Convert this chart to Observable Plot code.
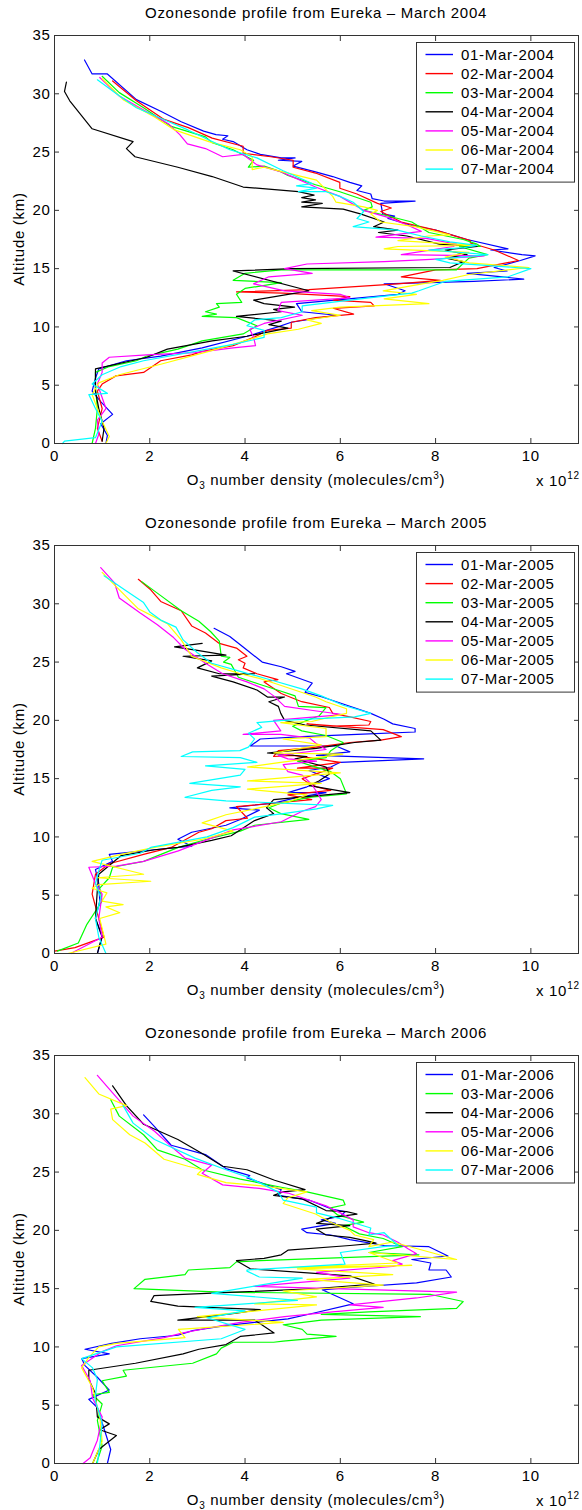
<!DOCTYPE html>
<html><head><meta charset="utf-8">
<script src="https://cdn.jsdelivr.net/npm/d3@7"></script>
<script src="https://cdn.jsdelivr.net/npm/@observablehq/plot@0.6"></script>
<style>
html,body{margin:0;padding:0;background:#fff;}
#chart svg{display:block;}
</style></head><body><div id="chart"></div>
<script>
// ---- Data: [O3 number density (x10^12 molecules/cm3), altitude (km)] ----
const m04_01 = [[0.63,32.9],[0.79,31.7],[1.11,31.7],[1.72,29.5],[2.23,28.5],[2.66,27.6],[3.13,26.8],[3.39,26.5],[3.64,26.4],[3.53,26.1],[3.75,25.9],[4.04,25.2],[4.32,24.8],[4.76,24.5],[5.05,24.5],[4.7,24.3],[5.19,24.2],[5.01,23.8],[5.48,23.3],[5.84,22.9],[6.2,22.4],[6.45,22.1],[6.35,21.7],[6.64,21.4],[6.67,21.0],[6.92,20.8],[7.57,20.8],[6.85,20.6],[6.89,19.7],[7.14,19.5],[7.0,19.3],[7.5,18.7],[8.0,18.3],[8.66,17.5],[9.52,16.7],[9.16,16.6],[9.81,16.2],[10.09,16.1],[9.78,15.7],[9.23,15.1],[9.5,14.8],[8.66,14.6],[9.85,14.1],[8.8,13.9],[6.92,13.7],[7.36,13.1],[7.21,12.8],[5.08,12.0],[5.19,11.3],[5.91,11.0],[4.97,10.4],[4.69,10.0],[4.04,9.2],[3.1,8.2],[2.23,7.5],[1.51,7.1],[0.93,6.4],[0.86,5.6],[0.79,4.5],[0.97,3.6],[1.22,2.5],[0.97,1.7],[1.11,0.7],[1.08,0]];
const m04_02 = [[1.22,31.1],[1.72,29.4],[2.3,27.8],[2.81,27.1],[3.31,26.2],[3.96,25.5],[3.96,24.9],[4.54,24.6],[5.01,24.3],[5.01,23.7],[5.48,23.2],[5.99,22.4],[5.99,21.9],[6.35,21.4],[6.78,20.6],[7.07,20.2],[6.85,19.9],[7.28,19.0],[8.0,18.3],[8.73,17.4],[8.73,17.2],[9.23,16.6],[9.74,15.7],[8.87,15.0],[8.0,14.9],[7.28,14.3],[8.1,14.0],[7.2,13.7],[5.34,13.2],[3.82,13.0],[4.8,12.9],[6.2,12.6],[5.85,12.3],[6.64,12.1],[6.71,11.8],[5.85,11.6],[6.28,11.1],[5.48,10.8],[4.97,10.4],[4.97,9.9],[4.47,9.7],[4.18,9.1],[3.75,8.4],[3.1,7.9],[2.88,7.6],[2.23,7.1],[1.87,6.1],[1.29,5.8],[1.0,5.1],[0.9,4.5],[1.0,3.0],[0.9,1.3],[1.0,0.2]];
const m04_03 = [[1.0,31.5],[1.36,30.1],[1.87,28.8],[2.45,27.2],[3.17,26.3],[3.31,25.8],[3.75,25.2],[4.18,24.3],[4.07,23.7],[4.4,23.8],[4.76,23.3],[4.9,23.0],[5.48,22.2],[5.99,21.6],[6.64,20.7],[6.67,20.3],[6.49,20.0],[6.92,19.6],[7.5,19.0],[7.86,18.1],[8.58,17.5],[8.87,17.1],[8.94,16.9],[8.5,16.9],[9.09,16.2],[8.7,15.9],[8.44,14.9],[4.76,14.9],[4.0,14.6],[3.75,14.0],[4.76,13.8],[4.0,13.3],[3.82,12.8],[3.93,12.1],[3.4,12.0],[3.46,11.7],[3.17,11.3],[3.4,11.1],[3.1,10.9],[3.82,10.8],[4.25,10.1],[3.96,9.4],[3.1,8.8],[2.59,8.1],[1.94,7.5],[1.72,7.1],[1.15,6.6],[0.86,6.1],[0.86,4.8],[0.9,3.0],[0.86,1.3],[0.79,0]];
const m04_04 = [[0.25,31.0],[0.21,30.2],[0.32,29.4],[0.79,27.0],[1.65,25.9],[1.51,25.3],[1.69,24.6],[2.59,23.7],[3.31,22.9],[3.96,22.0],[5.12,21.6],[5.45,21.3],[5.19,21.1],[5.48,20.9],[5.19,20.7],[5.62,20.6],[5.19,20.3],[6.06,20.1],[6.42,19.7],[6.92,19.0],[6.7,18.6],[7.21,18.3],[6.8,18.1],[7.4,17.8],[8.08,17.1],[8.87,16.9],[8.2,16.6],[8.66,16.2],[8.22,15.9],[8.58,15.6],[8.3,15.1],[5.0,15.0],[3.75,14.8],[5.34,13.1],[4.18,12.3],[4.4,12.0],[5.04,11.7],[4.6,11.5],[4.76,11.3],[3.82,10.9],[4.76,10.5],[4.5,10.2],[4.9,9.9],[4.04,9.2],[3.31,8.8],[2.37,8.1],[1.94,7.4],[0.86,6.4],[0.86,4.5],[0.93,3.0],[1.04,1.3],[1.0,0.2]];
const m04_05 = [[0.95,31.4],[1.36,29.8],[1.87,28.6],[2.4,27.4],[2.63,26.5],[2.79,25.7],[3.17,25.3],[3.53,24.6],[3.96,24.8],[4.25,23.9],[4.76,23.3],[5.48,22.0],[5.99,21.2],[6.49,20.0],[7.0,19.4],[7.43,18.7],[7.7,18.2],[6.75,17.7],[7.8,17.6],[8.44,17.1],[8.37,16.9],[7.28,16.2],[9.02,16.1],[7.9,15.8],[6.92,15.6],[5.3,15.4],[4.83,15.0],[5.41,14.6],[4.5,14.3],[4.18,13.7],[4.83,13.1],[6.0,12.8],[6.2,12.5],[4.76,12.1],[4.69,11.4],[5.2,11.0],[4.4,10.3],[4.1,9.8],[4.18,9.1],[4.22,8.4],[3.75,8.2],[2.95,7.8],[1.94,7.6],[1.15,7.4],[1.0,6.9],[1.0,6.1],[0.9,5.1],[1.08,3.0],[0.9,2.0],[0.93,0.8],[0.86,0]];
const m04_06 = [[1.0,31.3],[1.44,29.5],[2.1,28.0],[2.52,26.9],[3.24,25.9],[3.9,25.2],[4.15,24.6],[4.15,23.5],[4.4,23.7],[4.9,23.2],[5.5,22.6],[5.84,21.2],[5.91,20.7],[6.49,20.3],[6.78,20.0],[6.64,19.7],[6.85,19.0],[7.57,18.6],[8.3,17.9],[7.85,17.8],[7.21,17.4],[8.87,17.0],[7.21,16.9],[6.92,16.7],[8.7,16.4],[8.2,16.0],[8.7,15.5],[9.96,15.1],[8.7,14.5],[8.15,14.0],[7.6,13.6],[6.9,13.1],[7.6,12.8],[6.92,12.4],[7.86,12.0],[6.0,11.7],[5.4,11.4],[6.0,11.0],[5.3,10.6],[5.6,10.3],[5.12,9.8],[4.47,9.4],[4.0,8.8],[3.24,7.9],[2.23,6.8],[1.36,5.9],[0.93,5.2],[0.79,4.2],[1.0,1.9],[1.15,0.6],[1.08,0]];
const m04_07 = [[0.9,31.2],[1.3,30.0],[1.72,28.8],[2.23,27.9],[2.8,26.9],[3.31,25.9],[3.68,25.2],[4.25,24.5],[4.8,23.4],[5.41,22.3],[5.08,22.1],[5.5,21.9],[5.12,21.6],[5.7,21.6],[5.99,21.2],[6.27,20.7],[6.49,19.9],[6.35,19.3],[6.6,19.0],[6.27,18.6],[7.2,18.3],[7.7,17.8],[8.3,17.3],[8.87,17.0],[8.6,16.8],[7.86,16.6],[9.1,16.2],[8.0,15.8],[8.3,15.5],[10.0,15.0],[9.52,14.3],[8.2,13.9],[7.65,13.1],[7.5,12.9],[6.6,12.5],[6.2,12.3],[5.2,11.8],[5.2,11.3],[4.76,10.8],[4.2,10.6],[4.04,10.1],[4.4,9.7],[4.4,9.1],[3.75,8.5],[2.95,7.9],[1.87,7.1],[1.4,6.6],[1.0,5.9],[0.79,5.1],[1.11,4.3],[0.72,4.2],[0.86,3.0],[1.0,1.9],[0.86,0.5],[0.21,0.2],[0.17,0]];

const m05_01 = [[3.35,27.9],[3.68,27.2],[3.96,26.3],[4.36,25.0],[4.76,24.6],[5.05,24.2],[4.87,24.0],[5.41,23.2],[5.26,22.4],[5.62,22.0],[6.06,21.4],[6.64,20.6],[6.92,20.1],[7.1,19.7],[7.57,19.3],[7.57,19.0],[6.35,18.8],[5.2,18.6],[4.32,18.4],[4.11,17.8],[5.91,17.8],[6.2,17.3],[5.5,17.0],[7.75,16.7],[6.0,16.4],[5.8,16.0],[5.34,15.7],[5.77,15.0],[5.3,14.3],[4.9,13.8],[5.7,13.8],[5.1,13.4],[4.6,12.9],[3.68,12.5],[4.3,12.3],[3.9,11.5],[3.6,11.0],[2.88,10.4],[2.59,9.8],[2.88,9.2],[2.1,8.9],[1.15,8.5],[1.22,7.9],[0.86,7.2],[0.93,6.0],[0.95,4.5],[0.86,3.0],[1.0,1.4],[0.9,0]];
const m05_02 = [[1.76,32.1],[2.02,31.2],[2.23,30.2],[2.66,29.4],[2.88,28.1],[3.17,27.5],[3.46,26.6],[3.82,26.2],[4.04,25.5],[3.86,25.2],[4.0,24.9],[3.96,24.5],[4.25,24.0],[4.69,23.5],[4.4,23.3],[4.76,22.3],[5.19,21.6],[5.77,21.1],[5.84,20.6],[6.2,20.3],[6.64,19.9],[6.6,19.6],[5.84,19.5],[5.3,19.7],[6.9,19.2],[7.28,18.6],[6.85,18.3],[6.2,18.1],[5.5,17.7],[4.7,17.4],[4.6,16.9],[5.0,17.0],[6.0,16.4],[5.1,15.9],[5.84,15.9],[5.2,15.0],[5.3,14.7],[5.5,14.3],[5.8,14.0],[4.9,13.6],[5.4,13.2],[3.82,12.6],[4.05,11.6],[3.6,11.4],[3.3,10.7],[3.03,10.4],[2.45,9.1],[1.87,8.5],[1.15,7.7],[0.86,6.8],[0.79,5.1],[0.93,3.0],[1.04,1.4],[0.43,0.5],[0.0,0.2]];
const m05_03 = [[1.83,31.9],[2.23,30.7],[2.66,29.4],[3.03,28.5],[3.28,27.6],[3.46,26.8],[3.5,25.5],[3.68,25.4],[3.55,25.0],[3.71,24.8],[3.86,23.7],[4.3,23.1],[4.76,22.5],[5.05,22.1],[5.12,21.2],[5.7,21.1],[5.56,20.4],[5.3,20.0],[5.0,19.5],[5.19,19.1],[5.7,18.7],[6.06,18.1],[5.8,17.4],[5.7,16.8],[5.1,16.5],[5.4,16.1],[5.8,15.6],[6.0,15.0],[6.13,13.7],[5.34,13.4],[4.75,12.9],[4.5,12.5],[4.75,12.0],[5.34,11.5],[4.2,11.0],[3.9,10.5],[3.2,9.8],[2.6,9.1],[1.87,7.9],[1.22,7.4],[1.15,6.5],[0.95,5.6],[1.0,4.5],[0.68,2.5],[0.5,0.9],[0.06,0.2]];
const m05_04 = [[3.1,26.6],[2.52,26.3],[3.0,26.0],[3.6,25.6],[2.7,25.5],[3.3,25.1],[3.0,24.5],[3.46,24.0],[4.2,24.0],[3.3,23.8],[3.75,23.3],[4.25,22.6],[4.47,22.0],[4.83,22.0],[4.5,21.6],[4.7,21.2],[4.75,20.6],[4.83,20.0],[5.26,19.6],[6.64,19.1],[6.85,18.3],[6.3,18.1],[5.5,17.6],[4.7,17.3],[4.47,17.2],[5.3,16.9],[5.05,16.7],[5.7,16.0],[5.77,15.4],[5.55,14.8],[5.35,14.4],[6.2,13.8],[4.6,13.2],[4.45,12.5],[4.6,12.0],[4.2,11.4],[3.71,10.1],[3.3,9.7],[2.59,9.1],[2.1,8.9],[1.4,8.4],[0.93,6.8],[0.9,5.5],[0.86,3.0],[1.0,1.5],[0.9,0]];
const m05_05 = [[0.97,33.1],[1.26,31.8],[1.36,30.5],[1.8,29.2],[2.16,28.2],[2.5,27.1],[2.74,26.1],[3.17,24.9],[3.53,24.0],[4.04,23.3],[4.4,22.7],[4.6,22.1],[4.83,21.2],[5.5,20.8],[6.05,20.5],[4.6,20.0],[4.75,19.1],[3.96,18.8],[4.75,18.8],[5.35,18.5],[5.5,18.0],[5.7,17.5],[4.7,17.0],[4.9,16.7],[5.5,16.5],[4.8,16.2],[4.9,15.6],[5.2,15.3],[5.4,14.5],[5.5,13.9],[5.6,13.2],[5.48,12.6],[5.2,12.2],[4.76,11.3],[3.75,10.6],[3.1,9.6],[2.6,8.8],[1.87,7.9],[1.3,7.5],[0.72,7.4],[0.86,6.0],[1.0,5.1],[0.93,3.0],[1.0,1.4],[0.43,0.2],[0.35,0]];
const m05_06 = [[1.0,32.7],[1.29,31.5],[1.75,29.6],[2.37,28.3],[2.66,26.9],[2.88,25.5],[3.5,24.5],[3.9,24.0],[4.3,23.6],[4.6,23.2],[5.48,22.0],[5.7,21.6],[6.13,21.0],[6.13,20.6],[5.8,20.3],[5.4,19.9],[4.75,19.8],[5.7,19.3],[5.7,18.6],[4.8,18.4],[5.6,17.9],[4.6,17.2],[6.05,17.1],[4.75,16.4],[4.05,16.0],[6.0,15.5],[4.05,14.8],[5.6,14.6],[4.05,14.1],[5.3,13.6],[4.9,13.0],[3.6,11.9],[3.1,11.2],[3.75,10.5],[3.1,9.8],[2.1,9.1],[1.4,8.5],[0.79,7.9],[1.87,6.8],[0.9,6.5],[2.02,6.2],[0.93,5.9],[0.79,5.6],[1.1,5.2],[1.0,4.5],[1.44,4.2],[1.08,4.0],[1.37,3.5],[0.95,3.0],[1.08,0.8],[0.28,0]];
const m05_07 = [[1.04,32.4],[1.51,31.1],[1.87,30.1],[2.0,29.3],[2.23,28.6],[2.55,28.0],[2.7,26.9],[3.0,25.8],[3.3,24.9],[3.9,24.2],[4.6,23.4],[5.19,22.7],[5.6,22.1],[6.06,21.3],[6.64,20.6],[6.3,20.3],[4.8,20.0],[4.25,19.8],[4.35,19.4],[4.07,18.9],[4.2,18.4],[4.07,17.7],[3.89,17.4],[2.9,17.3],[2.66,16.9],[3.9,16.8],[4.25,16.4],[3.17,16.1],[4.0,15.8],[3.9,15.3],[2.84,14.6],[3.9,14.3],[3.3,14.0],[2.74,13.4],[3.6,13.1],[5.84,12.7],[5.5,12.4],[4.8,12.0],[4.2,11.7],[3.75,10.8],[3.2,10.0],[2.02,9.1],[1.8,8.6],[1.0,8.0],[0.93,7.1],[0.86,6.0],[0.97,4.8],[0.86,3.0],[0.93,1.4],[1.08,0]];

const m06_01 = [[1.87,29.9],[2.1,28.9],[2.45,27.3],[3.17,26.5],[3.6,25.3],[4.1,24.7],[4.04,24.5],[4.76,23.5],[4.7,23.0],[5.34,22.6],[5.84,21.8],[6.1,21.6],[6.0,21.2],[5.6,20.9],[5.9,20.6],[5.19,20.1],[5.3,19.8],[5.8,19.6],[6.2,19.2],[6.92,18.7],[7.86,18.6],[8.26,17.8],[7.5,17.5],[7.9,17.2],[7.86,16.6],[8.22,16.6],[8.33,16.0],[7.6,15.5],[6.2,15.1],[5.62,14.9],[6.27,13.7],[5.34,12.8],[4.9,12.4],[4.2,12.1],[3.55,11.8],[2.9,11.4],[2.59,11.0],[1.8,10.7],[1.2,10.3],[0.64,9.8],[1.15,9.4],[0.57,9.0],[0.64,8.4],[0.9,7.4],[1.15,6.3],[0.72,5.5],[0.9,4.8],[1.0,3.5],[1.18,1.2],[1.11,0]];
const m06_03 = [[1.18,31.2],[1.36,29.8],[1.87,28.2],[2.16,26.9],[2.74,26.1],[3.1,25.2],[3.9,24.4],[4.76,23.7],[5.3,23.3],[6.06,22.6],[6.1,22.2],[5.77,21.9],[5.95,21.3],[6.49,20.7],[6.06,20.4],[6.4,19.7],[6.9,19.3],[7.3,18.6],[6.6,18.1],[7.65,17.9],[4.32,17.4],[3.82,17.3],[3.68,16.8],[2.81,16.6],[2.74,16.2],[1.9,15.8],[1.67,15.0],[3.5,14.7],[7.9,14.5],[8.58,13.9],[8.44,13.3],[6.6,13.0],[5.6,12.8],[7.68,12.6],[5.6,12.3],[4.8,11.9],[5.2,11.5],[5.3,11.1],[5.91,10.9],[4.8,10.5],[4.6,10.4],[3.75,10.4],[3.5,9.9],[3.4,9.4],[2.9,8.6],[1.44,8.0],[1.51,7.5],[1.0,7.1],[1.15,6.1],[0.8,5.9],[1.0,5.1],[0.9,3.7],[1.0,1.5],[0.88,0]];
const m06_04 = [[1.22,32.4],[1.51,30.7],[1.87,29.1],[2.59,27.8],[3.1,26.6],[3.53,25.5],[4.04,25.2],[4.62,24.3],[5.26,23.5],[4.8,23.3],[4.6,23.0],[5.2,22.7],[5.7,21.7],[6.13,21.6],[6.35,21.4],[5.8,21.1],[5.7,20.9],[5.5,20.6],[6.2,20.4],[5.5,20.1],[5.7,19.6],[6.2,19.4],[6.55,19.1],[6.75,18.9],[6.2,18.7],[4.9,18.3],[4.76,17.9],[4.4,17.6],[3.82,17.4],[4.11,16.7],[6.2,16.1],[6.71,15.4],[5.5,15.0],[3.8,14.7],[2.09,14.4],[2.02,13.9],[2.59,13.5],[4.32,13.2],[3.82,12.9],[2.59,12.3],[4.2,12.3],[4.61,11.2],[3.9,10.9],[3.6,10.2],[3.03,9.8],[2.7,9.4],[1.7,8.6],[0.72,8.0],[0.72,7.2],[0.86,6.0],[0.9,4.0],[1.15,3.4],[0.95,2.9],[1.3,2.4],[0.93,1.2],[0.8,0]];
const m06_05 = [[0.9,33.3],[1.22,31.8],[1.65,29.8],[2.1,28.5],[2.45,27.2],[2.74,26.2],[3.3,25.6],[3.1,24.9],[3.53,23.9],[4.3,23.6],[4.9,23.2],[5.7,22.1],[6.0,21.5],[6.27,20.9],[6.27,20.3],[6.6,19.8],[6.9,19.6],[7.2,19.0],[7.43,18.4],[7.6,18.0],[7.1,17.4],[7.3,17.1],[7.1,16.9],[5.5,16.4],[6.2,15.9],[4.18,15.2],[8.44,14.7],[7.6,14.2],[6.2,13.6],[6.9,13.4],[5.84,13.0],[4.83,12.6],[3.9,12.1],[3.2,11.6],[2.7,11.2],[2.3,10.8],[1.3,10.1],[1.0,9.6],[0.57,8.4],[0.75,7.1],[0.8,5.6],[1.0,4.0],[0.9,2.0],[0.75,0.5],[0.6,0]];
const m06_06 = [[0.64,33.1],[0.93,31.7],[1.51,30.7],[1.18,30.4],[1.22,29.5],[1.58,28.2],[1.9,27.5],[2.3,26.1],[2.8,25.5],[3.1,25.2],[3.0,24.8],[3.6,24.1],[4.4,23.8],[5.3,23.3],[4.9,22.8],[4.8,22.3],[5.48,21.4],[5.8,20.7],[6.2,20.0],[6.3,19.6],[6.7,19.2],[6.6,18.6],[7.1,19.0],[8.44,17.5],[6.6,18.1],[7.2,17.2],[4.9,16.8],[7.5,17.0],[5.1,16.7],[7.1,16.2],[5.3,15.8],[6.9,15.3],[4.8,14.8],[5.5,14.3],[4.2,13.7],[5.5,13.6],[3.0,12.6],[4.8,12.1],[2.6,11.5],[2.74,10.8],[1.3,10.3],[0.93,10.0],[0.72,9.1],[0.57,8.2],[0.8,6.5],[0.95,4.0],[1.0,1.9],[0.8,0]];
const m06_07 = [[1.44,30.7],[1.65,29.2],[2.1,27.8],[2.95,26.2],[3.6,25.2],[4.1,24.5],[4.69,23.3],[4.8,22.6],[5.5,22.0],[5.5,21.5],[6.0,21.0],[6.64,20.2],[6.6,19.6],[6.92,19.8],[7.21,18.7],[6.9,18.6],[6.0,18.1],[6.1,17.1],[4.04,16.6],[4.04,16.5],[4.3,16.0],[5.2,15.9],[3.3,14.6],[5.1,14.0],[2.95,13.4],[4.0,13.1],[3.2,12.5],[4.0,11.5],[3.5,10.7],[1.3,10.0],[0.57,9.0],[0.8,8.2],[0.9,7.2],[0.85,5.5],[1.0,3.5],[0.95,1.5],[0.9,0]];

const dates2004 = ["01-Mar-2004","02-Mar-2004","03-Mar-2004","04-Mar-2004","05-Mar-2004","06-Mar-2004","07-Mar-2004"];
const dates2005 = ["01-Mar-2005","02-Mar-2005","03-Mar-2005","04-Mar-2005","05-Mar-2005","06-Mar-2005","07-Mar-2005"];
const dates2006 = ["01-Mar-2006","03-Mar-2006","04-Mar-2006","05-Mar-2006","06-Mar-2006","07-Mar-2006"];
const series2004 = [m04_01,m04_02,m04_03,m04_04,m04_05,m04_06,m04_07];
const series2005 = [m05_01,m05_02,m05_03,m05_04,m05_05,m05_06,m05_07];
const series2006 = [m06_01,m06_03,m06_04,m06_05,m06_06,m06_07];
const titles = ["Ozonesonde profile from Eureka \u2013 March 2004","Ozonesonde profile from Eureka \u2013 March 2005","Ozonesonde profile from Eureka \u2013 March 2006"];
const xTicks = [0,2,4,6,8,10];
const yTicks = [0,5,10,15,20,25,30,35];

// ---- styles ----
const dayColor = {"01":"#0000ff","02":"#ff0000","03":"#00ff00","04":"#000000","05":"#ff00ff","06":"#ffff00","07":"#00ffff"};
const FONT = "'Liberation Sans', Arial, Helvetica, sans-serif";
const LS = "0.7px";
const W = 582, H = 510, ML = 54, MR = 4, MT = 35, MB = 67;
const axisCol = "#333";

function panel(title, dates, series) {
  const rows = dates.flatMap((d, i) => series[i].map(([x, y]) => ({date: d, x, y})));
  const svg = Plot.plot({
    width: W, height: H, marginLeft: ML, marginRight: MR, marginTop: MT, marginBottom: MB,
    style: {fontFamily: FONT, fontSize: "15px", color: "#000", background: "#fff", letterSpacing: LS},
    x: {domain: [0, 11], label: null},
    y: {domain: [0, 35], label: null},
    color: {domain: dates, range: dates.map(d => dayColor[d.slice(0, 2)])},
    marks: [
      Plot.line(rows, {x: "x", y: "y", z: "date", stroke: "date", strokeWidth: 1.2}),
      Plot.axisX(xTicks, {anchor: "bottom", tickSize: 0, tickPadding: 7, label: null}),
      Plot.axisX(xTicks, {anchor: "bottom", tickSize: 5, insetBottom: 5, fill: "none", stroke: axisCol, label: null}),
      Plot.axisX(xTicks, {anchor: "top", tickSize: 5, insetTop: 5, fill: "none", stroke: axisCol, label: null}),
      Plot.axisY(yTicks, {anchor: "left", tickSize: 0, tickPadding: 4, label: null}),
      Plot.axisY(yTicks, {anchor: "left", tickSize: 5, insetLeft: 5, fill: "none", stroke: axisCol, label: null}),
      Plot.axisY(yTicks, {anchor: "right", tickSize: 5, insetRight: 5, fill: "none", stroke: axisCol, label: null}),
      Plot.frame({stroke: axisCol})
    ]
  });
  const s = d3.select(svg);
  const cx = ML + (W - ML - MR) / 2;
  const txt = (x, y, anchor) => s.append("text").attr("x", x).attr("y", y).attr("text-anchor", anchor)
      .style("font-family", FONT).style("font-size", "15px").style("letter-spacing", LS).attr("fill", "#000");
  txt(cx, 18, "middle").text(title);
  // y label
  s.append("text").attr("transform", `translate(19,${MT + (H - MT - MB) / 2}) rotate(-90)`)
    .attr("text-anchor", "middle").attr("dy", "0.35em")
    .style("font-family", FONT).style("font-size", "15px").style("letter-spacing", LS).text("Altitude (km)");
  // x label with sub/superscript
  const xl = txt(cx, H - MB + 42, "middle");
  xl.append("tspan").text("O");
  xl.append("tspan").attr("dy", 4).style("font-size", "10px").text("3");
  xl.append("tspan").attr("dy", -4).text(" number density (molecules/cm");
  xl.append("tspan").attr("dy", -6).style("font-size", "10px").text("3");
  xl.append("tspan").attr("dy", 6).text(")");
  // exponent label
  const ex = txt(536, H - MB + 43, "start");
  ex.append("tspan").text("x 10");
  ex.append("tspan").attr("dy", -7).style("font-size", "10px").text("12");
  // legend
  const lx = 416, ly = MT + 7, lw = 158, rowH = 19.1, first = 12.5;
  const lh = first + (dates.length - 1) * rowH + 12.5;
  s.append("rect").attr("x", lx + 0.5).attr("y", ly + 0.5).attr("width", lw).attr("height", lh)
    .attr("fill", "#fff").attr("stroke", axisCol).attr("stroke-width", 1);
  dates.forEach((d, i) => {
    const yy = ly + first + i * rowH;
    s.append("line").attr("x1", lx + 9.5).attr("x2", lx + 37).attr("y1", yy).attr("y2", yy)
      .attr("stroke", dayColor[d.slice(0, 2)]).attr("stroke-width", 1.4);
    txt(lx + 45, yy, "start").attr("dy", "0.35em").text(d);
  });
  return svg;
}

const root = document.getElementById("chart");
root.appendChild(panel(titles[0], dates2004, series2004));
root.appendChild(panel(titles[1], dates2005, series2005));
root.appendChild(panel(titles[2], dates2006, series2006));
</script></body></html>
